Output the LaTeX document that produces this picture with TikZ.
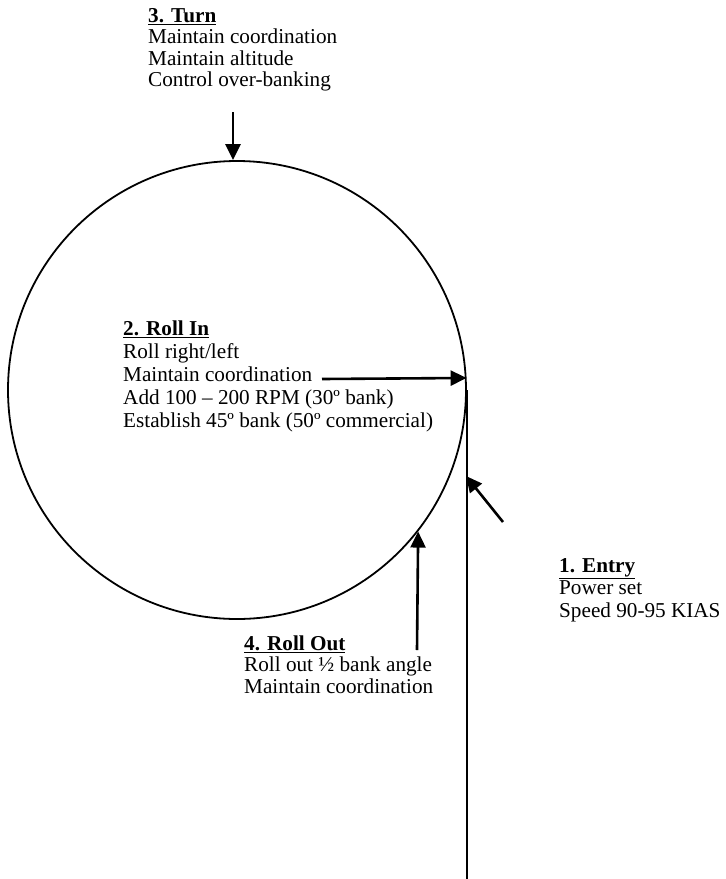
\documentclass[tikz,border=0pt]{standalone}
\usepackage{fontspec}
\setmainfont{Liberation Serif}
\usetikzlibrary{arrows.meta}
\tikzset{
  lbl/.style={anchor=base west, inner sep=0pt, font=\fontsize{21.2}{22}\selectfont},
  arr/.style={line width=2.6pt, -{Triangle[length=16pt,width=15pt]}},
  ring/.style={circle, draw, line width=1.8pt, minimum size=458pt, inner sep=0pt},
  path/.style={line width=1.8pt}
}
\newcommand{\lines}[2]{\def\arraystretch{1}\setlength{\baselineskip}{#1}\begin{tabular}[t]{@{}l@{}}#2\end{tabular}}
\begin{document}
\begin{tikzpicture}[x=1pt,y=-1pt]
\useasboundingbox (0,0) rectangle (726,879);
\node[ring] (c) at (237,390) {};
% text blocks
\node[lbl] (turn) at (148,22) {\fontsize{21.2}{21.5}\selectfont\begin{tabular}[t]{@{}l@{}}\underline{\textbf{3. Turn}}\\ Maintain coordination\\ Maintain altitude\\ Control over-banking\end{tabular}};
\node[lbl] (rollin) at (123,335) {\fontsize{21.2}{23}\selectfont\begin{tabular}[t]{@{}l@{}}\underline{\textbf{2. Roll In}}\\ Roll right/left\\ Maintain coordination\\ Add 100 – 200 RPM (30º bank)\\ Establish 45º bank (50º commercial)\end{tabular}};
\node[lbl] (rollout) at (244,650) {\fontsize{21.2}{21.5}\selectfont\begin{tabular}[t]{@{}l@{}}\underline{\textbf{4. Roll Out}}\\ Roll out ½ bank angle\\ Maintain coordination\end{tabular}};
\node[lbl] (entry) at (559,572) {\fontsize{21.2}{22.5}\selectfont\begin{tabular}[t]{@{}l@{}}\underline{\textbf{1. Entry}}\\ Power set\\ Speed 90-95 KIAS\end{tabular}};
% coordinates
\coordinate (a3s) at (233,112);
\coordinate (a2s) at (322,379);
\coordinate (a1s) at (503,522);
\coordinate (a1e) at (466,476);
\coordinate (a4s) at (417,650);
\coordinate (vend) at (465,879);
% path line
\draw[path] (c.east) -- (c.east |- vend);
% arrows
\draw[arr] (a3s) -- (a3s |- c.north);
\draw[arr] (a2s) -- (c.3);
\draw[arr] (a1s) -- (a1e);
\draw[arr] (a4s) -- (c.-38);
\end{tikzpicture}
\end{document}
